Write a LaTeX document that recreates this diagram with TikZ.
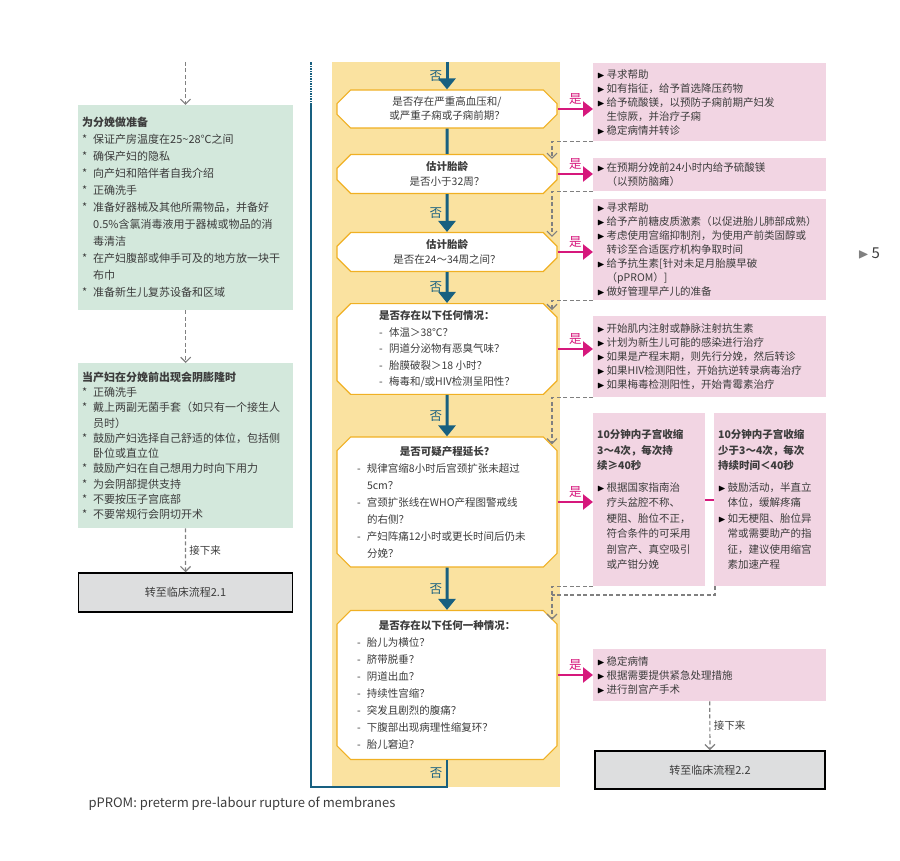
\documentclass[tikz,border=0pt]{standalone}
\usepackage{amssymb}
\usepackage{fontspec}
\setmainfont{Noto Sans CJK SC}
\usepackage{xcolor}
\definecolor{mint}{RGB}{211,232,220}
\definecolor{sand}{RGB}{250,226,160}
\definecolor{gold}{RGB}{240,176,35}
\definecolor{rose}{RGB}{242,213,227}
\definecolor{teal}{RGB}{24,96,128}
\definecolor{magenta}{RGB}{214,24,124}
\definecolor{ink}{RGB}{60,60,60}
\definecolor{lightgray}{RGB}{221,222,223}
\usetikzlibrary{arrows.meta,shapes.misc}

\newcommand{\st}{\makebox[11pt][l]{*}}
\newcommand{\tb}{\makebox[9.5pt][l]{\color{black}\normalsize$\blacktriangleright$}}
\newcommand{\dsh}{\makebox[10pt][l]{-}}
\newcommand{\ind}[1]{\hspace*{#1}}

\begin{document}
\begin{tikzpicture}[x=1pt,y=-1pt,
    every node/.style={text=ink},
    prepbox/.style={anchor=north west, fill=mint, inner xsep=4pt,
        text width=207pt, minimum width=215pt, align=left,
        font=\fontsize{11}{17}\selectfont},
    questbox/.style={chamfered rectangle, chamfered rectangle xsep=10pt,
        draw=gold, line width=1.2pt, fill=white, minimum width=220pt,
        align=left, font=\fontsize{10.5}{16.5}\selectfont},
    actbox/.style={anchor=north west, fill=rose, inner xsep=4pt,
        text width=225pt, minimum width=233pt, align=left,
        font=\fontsize{10.5}{14}\selectfont},
    gotobox/.style={draw=black, line width=1.5pt, fill=lightgray,
        font=\fontsize{11}{13}\selectfont},
    noarrow/.style={teal, line width=3pt, -{Triangle[width=17pt,length=11pt]}},
    yesarrow/.style={magenta, line width=2.5pt, -{Triangle[width=15pt,length=10pt]}},
    retarrow/.style={gray, line width=1.2pt, dash pattern=on 4pt off 2.5pt,
        -{Straight Barb[width=10pt,length=5pt]}},
    nolabel/.style={text=teal, font=\fontsize{12.5}{13}\selectfont},
    yeslabel/.style={text=magenta, font=\fontsize{12.5}{13}\selectfont}]
    \useasboundingbox (0,0) rectangle (900,861);

    % Background of the question column
    \fill[sand] (332,62) rectangle (560,787);

    % Left column
    \node[prepbox, minimum height=205pt] (prep) at (78,105) {
        \textbf{为分娩做准备}\\
        \st 保证产房温度在25\textasciitilde28℃之间\\
        \st 确保产妇的隐私\\
        \st 向产妇和陪伴者自我介绍\\
        \st 正确洗手\\
        \st 准备好器械及其他所需物品，并备好\\
        \ind{11pt}0.5\%含氯消毒液用于器械或物品的消\\
        \ind{11pt}毒清洁\\
        \st 在产妇腹部或伸手可及的地方放一块干\\
        \ind{11pt}布巾\\
        \st 准备新生儿复苏设备和区域};
    \node[prepbox, minimum height=165pt, font=\fontsize{11}{15.3}\selectfont]
        (birth) at (78,363) {
        \textbf{当产妇在分娩前出现会阴膨隆时}\\
        \st 正确洗手\\
        \st 戴上两副无菌手套（如只有一个接生人\\
        \ind{11pt}员时）\\
        \st 鼓励产妇选择自己舒适的体位，包括侧\\
        \ind{11pt}卧位或直立位\\
        \st 鼓励产妇在自己想用力时向下用力\\
        \st 为会阴部提供支持\\
        \st 不要按压子宫底部\\
        \st 不要常规行会阴切开术};
    \node[gotobox, minimum width=214pt, minimum height=39pt] (goA) at (185.5,592.5)
        {转至临床流程2.1};

    % Questions
    \node[questbox, minimum height=38pt, align=center,
        font=\fontsize{10.5}{14}\selectfont] (qa) at (447,109)
        {是否存在严重高血压和/\\或严重子痫或子痫前期？};
    \node[questbox, minimum height=38pt, align=center,
        font=\fontsize{10.5}{15}\selectfont] (qb) at (447,174)
        {\textbf{估计胎龄}\\是否小于32周？};
    \node[questbox, minimum height=38pt, align=center,
        font=\fontsize{10.5}{15}\selectfont] (qc) at (447,252)
        {\textbf{估计胎龄}\\是否在24～34周之间？};
    \node[questbox, minimum height=88pt] (qd) at (447,349) {
        \textbf{是否存在以下任何情况：}\\
        \dsh 体温＞38℃？\\
        \dsh 阴道分泌物有恶臭气味？\\
        \dsh 胎膜破裂＞18 小时？\\
        \dsh 梅毒和/或HIV检测呈阳性？};
    \node[questbox, minimum height=130pt, text width=180pt,
        font=\fontsize{10.5}{17}\selectfont] (qe) at (447,502) {
        \makebox[\linewidth]{\bfseries 是否可疑产程延长？}\\
        \dsh 规律宫缩8小时后宫颈扩张未超过\\
        \ind{10pt}5cm？\\
        \dsh 宫颈扩张线在WHO产程图警戒线\\
        \ind{10pt}的右侧？\\
        \dsh 产妇阵痛12小时或更长时间后仍未\\
        \ind{10pt}分娩？};
    \node[questbox, minimum height=149pt, text width=180pt,
        font=\fontsize{10.5}{17}\selectfont] (qf) at (447,685) {
        \makebox[\linewidth]{\bfseries 是否存在以下任何一种情况：}\\
        \dsh 胎儿为横位？\\
        \dsh 脐带脱垂？\\
        \dsh 阴道出血？\\
        \dsh 持续性宫缩？\\
        \dsh 突发且剧烈的腹痛？\\
        \dsh 下腹部出现病理性缩复环？\\
        \dsh 胎儿窘迫？};

    % Actions
    \node[actbox, minimum height=78pt] (ra) at (593,63) {
        \tb 寻求帮助\\
        \tb 如有指征，给予首选降压药物\\
        \tb 给予硫酸镁，以预防子痫前期产妇发\\
        \ind{9.5pt}生惊厥，并治疗子痫\\
        \tb 稳定病情并转诊};
    \node[actbox, minimum height=33pt] (rb) at (593,158) {
        \tb 在预期分娩前24小时内给予硫酸镁\\
        \ind{9.5pt}（以预防脑瘫）};
    \node[actbox, minimum height=101pt] (rc) at (593,199) {
        \tb 寻求帮助\\
        \tb 给予产前糖皮质激素（以促进胎儿肺部成熟）\\
        \tb 考虑使用宫缩抑制剂，为使用产前类固醇或\\
        \ind{9.5pt}转诊至合适医疗机构争取时间\\
        \tb 给予抗生素[针对未足月胎膜早破\\
        \ind{9.5pt}（pPROM）]\\
        \tb 做好管理早产儿的准备};
    \node[actbox, minimum height=81pt] (rd) at (593,316) {
        \tb 开始肌内注射或静脉注射抗生素\\
        \tb 计划为新生儿可能的感染进行治疗\\
        \tb 如果是产程末期，则先行分娩，然后转诊\\
        \tb 如果HIV检测阳性，开始抗逆转录病毒治疗\\
        \tb 如果梅毒检测阳性，开始青霉素治疗};
    \node[actbox, minimum height=173pt, text width=104pt, minimum width=112pt,
        font=\fontsize{10.5}{15.5}\selectfont] (rea) at (593,413) {
        \textbf{10分钟内子宫收缩}\\
        \textbf{3～4次，每次持}\\
        \textbf{续≥40秒}\\[6pt]
        \tb 根据国家指南治\\
        \ind{9.5pt}疗头盆腔不称、\\
        \ind{9.5pt}梗阻、胎位不正，\\
        \ind{9.5pt}符合条件的可采用\\
        \ind{9.5pt}剖宫产、真空吸引\\
        \ind{9.5pt}或产钳分娩};
    \node[actbox, minimum height=173pt, text width=104pt, minimum width=112pt,
        font=\fontsize{10.5}{15.5}\selectfont] (reb) at (714,413) {
        \textbf{10分钟内子宫收缩}\\
        \textbf{少于3～4次，每次}\\
        \textbf{持续时间＜40秒}\\[6pt]
        \tb 鼓励活动，半直立\\
        \ind{9.5pt}体位，缓解疼痛\\
        \tb 如无梗阻、胎位异\\
        \ind{9.5pt}常或需要助产的指\\
        \ind{9.5pt}征，建议使用缩宫\\
        \ind{9.5pt}素加速产程};
    \node[actbox, minimum height=52pt] (rf) at (593,649) {
        \tb 稳定病情\\
        \tb 根据需要提供紧急处理措施\\
        \tb 进行剖宫产手术};
    \node[gotobox, minimum width=230pt, minimum height=38pt] (goB) at (710,770)
        {转至临床流程2.2};

    % Page mark and footnote
    \node[font=\fontsize{15}{15}\selectfont] (page) at (869,253)
        {{\color{gray}\Large$\blacktriangleright$}\,5};
    \node[anchor=west, font=\fontsize{13}{13}\selectfont] (foot) at (85,804)
        {pPROM: preterm pre-labour rupture of membranes};

    % Main line (no)
    \coordinate (entry) at (447,62);
    \coordinate (loopA) at (447,787);
    \coordinate (loopB) at (311,787);
    \coordinate (loopC) at (311,105);
    \coordinate (loopD) at (311,62);
    \draw[noarrow] (entry) -- node[left, nolabel] {否} (qa);
    \draw[teal, line width=3pt] (qa) -- (qb);
    \draw[noarrow] (qb) -- node[left, nolabel] {否} (qc);
    \draw[noarrow] (qc) -- node[left, nolabel] {否} (qd);
    \draw[noarrow] (qd) -- node[left, nolabel] {否} (qe);
    \draw[noarrow] (qe) -- node[left, nolabel] {否} (qf);
    \draw[teal, line width=2.5pt] (qf) -- node[left, nolabel] {否} (loopA)
        -- (loopB) -- (loopC);
    \draw[teal, line width=2.5pt, dash pattern=on 1.5pt off 1pt] (loopC) -- (loopD);

    % Yes arrows
    \draw[yesarrow] (qa.east) -- node[above, yeslabel] {是} (qa.east -| ra.west);
    \draw[yesarrow] (qb.east) -- node[above, yeslabel] {是} (qb.east -| rb.west);
    \draw[yesarrow] (qc.east) -- node[above, yeslabel] {是} (qc.east -| rc.west);
    \draw[yesarrow] (qd.east) -- node[above, yeslabel] {是} (qd.east -| rd.west);
    \draw[yesarrow] (qe.east) -- node[above, yeslabel] {是} (qe.east -| rea.west);
    \draw[yesarrow] ([yshift=10pt]qf.east) -- node[above, yeslabel] {是}
        ([yshift=10pt]qf.east -| rf.west);
    \draw[magenta, line width=2pt] (rea.east) -- (reb.west);

    % Back to the question column
    \coordinate (retx) at (552,0);
    \coordinate (merge) at (552,595);
    \draw[retarrow] (ra.south west) -| ([yshift=-5pt]retx |- qb.north);
    \draw[retarrow] (rb.south west) -| ([yshift=-5pt]retx |- qc.north);
    \draw[retarrow] (rc.south west) -| ([yshift=-7pt]retx |- qd.north);
    \draw[retarrow] (rd.south west) -| ([yshift=-8pt]retx |- qe.north);
    \draw[retarrow] (rea.south west) -| ([yshift=-10pt]retx |- qf.north);
    \draw[retarrow, -] ([xshift=1pt]reb.south west) |- (merge);

    % Next steps
    \coordinate (ltop) at (185.5,62);
    \draw[retarrow] (ltop) -- (ltop |- prep.north);
    \draw[retarrow] (prep) -- (birth);
    \draw[retarrow] (birth) -- node[right, font=\fontsize{10.5}{11}\selectfont] {接下来} (goA);
    \draw[retarrow] (rf) -- node[right, font=\fontsize{10.5}{11}\selectfont] {接下来} (goB);
\end{tikzpicture}
\end{document}
